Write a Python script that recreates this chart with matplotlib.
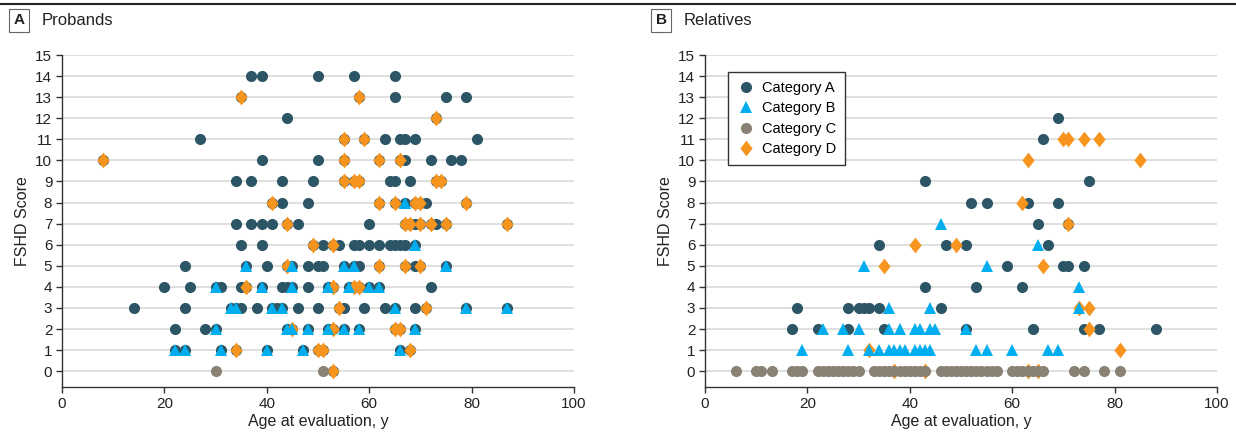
import numpy as np
import matplotlib
matplotlib.use('Agg')
import matplotlib.pyplot as plt
from matplotlib.lines import Line2D
from matplotlib.path import Path

# Fonts (condensed look like the original)
plt.rcParams['font.family'] = ['Liberation Sans Narrow', 'Liberation Sans', 'DejaVu Sans']

# Colours of the categories
col_a = '#2c5565'
col_b = '#00aeef'
col_c = '#8a8175'
col_d = '#f7941d'

# ---- Panel A: probands (age, FSHD score) ----
prob_a_age = [37, 39, 50, 57, 65,
              35, 58, 65, 75, 79,
              44, 73,
              27, 55, 59, 63, 66, 67, 69, 81,
              8, 39, 50, 55, 62, 66, 67, 72, 76, 78,
              34, 37, 43, 49, 55, 57, 58, 64, 65, 68, 73, 74,
              41, 43, 48, 62, 65, 67, 69, 70, 71, 79,
              34, 37, 39, 41, 44, 46, 60, 67, 68, 69, 70, 72, 73, 75, 87,
              35, 39, 49, 51, 53, 54, 57, 58, 60, 62, 64, 65, 66, 67, 69,
              24, 36, 40, 44, 45, 48, 50, 51, 55, 57, 58, 62, 67, 69, 70, 75,
              20, 25, 30, 31, 35, 36, 39, 43, 44, 45, 48, 52, 53, 56, 57, 58, 60, 62, 72,
              14, 24, 33, 34, 35, 38, 41, 42, 43, 46, 50, 54, 55, 59, 63, 65, 69, 71, 79, 87,
              22, 28, 30, 44, 45, 48, 52, 53, 55, 58, 65, 66, 69,
              22, 24, 31, 34, 40, 47, 50, 51, 66, 68,
              53]
prob_a_score = ([14] * 5 + [13] * 5 + [12] * 2 + [11] * 8 + [10] * 10 + [9] * 12 +
                [8] * 10 + [7] * 15 + [6] * 15 + [5] * 16 + [4] * 19 + [3] * 20 +
                [2] * 13 + [1] * 10 + [0] * 1)

prob_b_age = [67,
              69,
              36, 45, 55, 57, 75,
              30, 39, 45, 52, 56, 60, 62,
              33, 34, 41, 43, 65, 79, 87,
              30, 44, 45, 48, 52, 55, 58, 69,
              22, 24, 31, 40, 47, 66]
prob_b_score = [8] * 1 + [6] * 1 + [5] * 5 + [4] * 7 + [3] * 7 + [2] * 8 + [1] * 6

prob_c_age = [30, 51]
prob_c_score = [0, 0]

prob_d_age = [35, 58,
              73,
              55, 59,
              8, 55, 62, 66,
              55, 57, 58, 73, 74,
              41, 62, 65, 69, 70, 79,
              44, 67, 68, 70, 72, 75, 87,
              49, 53,
              44, 62, 67, 70,
              36, 53, 57, 58,
              54, 71,
              45, 53, 65, 66,
              34, 50, 51, 68,
              53]
prob_d_score = ([13] * 2 + [12] * 1 + [11] * 2 + [10] * 4 + [9] * 5 + [8] * 6 +
                [7] * 7 + [6] * 2 + [5] * 4 + [4] * 4 + [3] * 2 + [2] * 4 + [1] * 4 + [0] * 1)

# ---- Panel B: relatives ----
rel_a_age = [69,
             66,
             43, 75,
             52, 55, 63, 69,
             65, 71,
             34, 47, 51, 67,
             59, 70, 71, 74,
             43, 53, 62,
             18, 28, 30, 31, 32, 34, 46,
             17, 22, 28, 35, 51, 64, 74, 77, 88]
rel_a_score = ([12] * 1 + [11] * 1 + [9] * 2 + [8] * 4 + [7] * 2 + [6] * 4 + [5] * 4 +
               [4] * 3 + [3] * 7 + [2] * 9)

rel_b_age = [46,
             65,
             31, 55,
             73,
             36, 44, 73,
             23, 27, 30, 36, 38, 41, 42, 44, 45, 51,
             19, 28, 32, 34, 36, 37, 38, 39, 41, 42, 43, 44, 53, 55, 60, 67, 69]
rel_b_score = [7] * 1 + [6] * 1 + [5] * 2 + [4] * 1 + [3] * 3 + [2] * 10 + [1] * 17

rel_c_age = [6, 10, 11, 13, 17, 18, 19, 22, 23, 24, 25, 26, 27, 28, 29, 30,
             33, 34, 35, 36, 37, 38, 39, 40, 41, 42, 43, 46, 47, 48, 49, 50,
             51, 52, 53, 54, 55, 56, 57, 60, 61, 62, 63, 64, 65, 66, 72, 74, 78, 81]
rel_c_score = [0] * 50

rel_d_age = [70, 71, 74, 77,
             63, 85,
             62,
             71,
             41, 49,
             35, 66,
             73, 75,
             75,
             32, 81,
             37, 43, 63, 65]
rel_d_score = [11] * 4 + [10] * 2 + [8] * 1 + [7] * 1 + [6] * 2 + [5] * 2 + [3] * 2 + [2] * 1 + [1] * 2 + [0] * 4

# Narrow diamond marker
diamond = Path([(0, 1), (0.78, 0), (0, -1), (-0.78, 0), (0, 1)],
               [Path.MOVETO, Path.LINETO, Path.LINETO, Path.LINETO, Path.CLOSEPOLY])

fig = plt.figure(figsize=(12.36, 4.38), dpi=100)
axA = fig.add_axes([0.0502, 0.1164, 0.4142, 0.758])
axB = fig.add_axes([0.5704, 0.1164, 0.4142, 0.758])


def draw(ax, a, b, c, d):
    ha = ax.plot(a[0], a[1], 'o', ms=8.0, color=col_a, mew=0, label='Category A', zorder=3)[0]
    hd = ax.plot(d[0], d[1], marker=diamond, ls='none', ms=11.3, color=col_d, mew=0,
                 label='Category D', zorder=4)[0]
    hb = ax.plot(b[0], b[1], '^', ms=9.0, color=col_b, mew=0, label='Category B', zorder=5)[0]
    hc = ax.plot(c[0], c[1], 'o', ms=8.0, color=col_c, mew=0, label='Category C', zorder=6)[0]
    return ha, hb, hc, hd


def style(ax):
    ax.set_xlim(0, 100)
    ax.set_ylim(-0.75, 15)
    ax.set_xticks(range(0, 101, 20))
    ax.set_yticks(range(0, 16))
    ax.yaxis.grid(True, color='#dcdcdc', lw=1.3)
    ax.set_axisbelow(True)
    for s in ['top', 'right']:
        ax.spines[s].set_visible(False)
    for s in ['left', 'bottom']:
        ax.spines[s].set_color('#333333')
        ax.spines[s].set_linewidth(1.0)
    ax.tick_params(direction='out', length=4, width=1, color='#333333',
                   labelsize=11, labelcolor='#222222', pad=3)
    ax.set_xlabel('Age at evaluation, y', fontsize=11.5, color='#222222', labelpad=2)
    ax.set_ylabel('FSHD Score', fontsize=11.5, color='#222222', labelpad=4)


draw(axA, (prob_a_age, prob_a_score), (prob_b_age, prob_b_score),
     (prob_c_age, prob_c_score), (prob_d_age, prob_d_score))
handles = draw(axB, (rel_a_age, rel_a_score), (rel_b_age, rel_b_score),
               (rel_c_age, rel_c_score), (rel_d_age, rel_d_score))
style(axA)
style(axB)

# Legend in panel B
leg = axB.legend(handles=list(handles), loc='upper left', bbox_to_anchor=(0.045, 0.949),
                 borderaxespad=0, fancybox=False, framealpha=1, edgecolor='#333333',
                 fontsize=10.5, handletextpad=0.5, labelspacing=0.45, borderpad=0.6,
                 handlelength=1.2)
leg.get_frame().set_linewidth(1.0)

# Panel headers
for xb, xt, letter, title in [(0.0154, 0.034, 'A', 'Probands'), (0.5348, 0.5534, 'B', 'Relatives')]:
    fig.text(xb, 0.954, letter, ha='center', va='center', fontsize=11, fontweight='bold',
             color='#222222',
             bbox=dict(boxstyle='square,pad=0.3', fc='white', ec='#666666', lw=0.8))
    fig.text(xt, 0.954, title, ha='left', va='center', fontsize=12, color='#222222')

# Top rule
fig.add_artist(Line2D([0, 1], [0.992, 0.992], transform=fig.transFigure, color='#222222', lw=1.5))

fig.savefig('out.png', dpi=100)
